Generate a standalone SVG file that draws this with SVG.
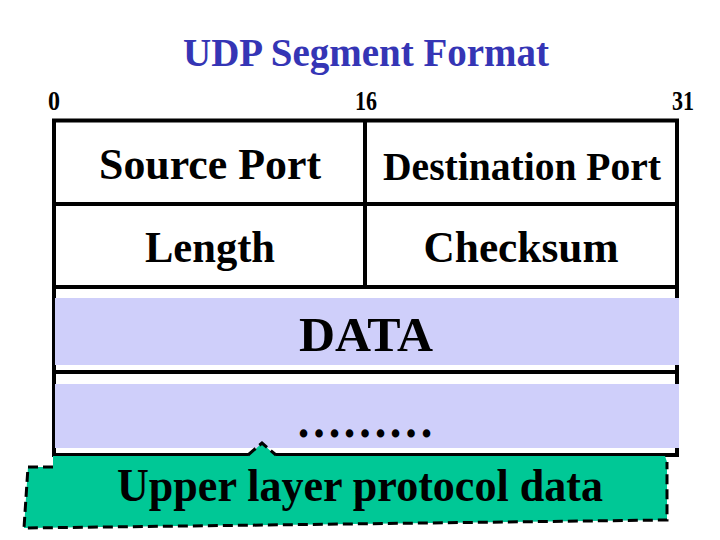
<svg xmlns="http://www.w3.org/2000/svg" width="720" height="540" viewBox="0 0 720 540">
  <style>
    .t { font-family: "Liberation Serif", "Times New Roman", serif; font-weight: bold; fill: #000; text-anchor: middle; }
    .title { fill: #3535b5; }
    .ln { stroke: #000; stroke-width: 4; fill: none; }
    .band { fill: #cfcffa; }
    .dash { stroke: #000; stroke-width: 3; fill: none; stroke-dasharray: 10 5; }
  </style>
  <rect width="720" height="540" fill="#fff"/>

  <g id="title">
    <text class="t title" x="366" y="66" font-size="39" textLength="366" lengthAdjust="spacingAndGlyphs">UDP Segment Format</text>
  </g>

  <g id="bit-labels">
    <text class="t" x="54" y="110" font-size="27" textLength="12" lengthAdjust="spacingAndGlyphs">0</text>
    <text class="t" x="366" y="110" font-size="27" textLength="22" lengthAdjust="spacingAndGlyphs">16</text>
    <text class="t" x="683" y="110" font-size="27" textLength="22" lengthAdjust="spacingAndGlyphs">31</text>
  </g>

  <g id="grid">
    <line class="ln" x1="52" y1="120.5" x2="679" y2="120.5"/>
    <line class="ln" x1="54" y1="119" x2="54" y2="457"/>
    <line class="ln" x1="677" y1="119" x2="677" y2="457"/>
    <line class="ln" x1="365" y1="120" x2="365" y2="287"/>
    <line class="ln" x1="54" y1="204" x2="677" y2="204"/>
    <line class="ln" x1="54" y1="287" x2="677" y2="287"/>
    <line class="ln" x1="54" y1="372" x2="677" y2="372"/>
    <line class="ln" x1="54" y1="455" x2="679" y2="455"/>
  </g>

  <g id="source-port">
    <text class="t" x="210" y="179" font-size="45" textLength="222" lengthAdjust="spacingAndGlyphs">Source Port</text>
  </g>
  <g id="destination-port">
    <text class="t" x="522" y="180" font-size="39" textLength="278" lengthAdjust="spacingAndGlyphs">Destination Port</text>
  </g>
  <g id="length">
    <text class="t" x="210" y="262" font-size="44" textLength="130" lengthAdjust="spacingAndGlyphs">Length</text>
  </g>
  <g id="checksum">
    <text class="t" x="521" y="262" font-size="44" textLength="195" lengthAdjust="spacingAndGlyphs">Checksum</text>
  </g>

  <g id="data">
    <rect class="band" x="55" y="298" width="624" height="67"/>
    <text class="t" x="366" y="351" font-size="48" textLength="134" lengthAdjust="spacingAndGlyphs">DATA</text>
  </g>

  <g id="data-more">
    <rect class="band" x="55" y="384" width="624" height="64"/>
    <text class="t" x="365" y="437" font-size="50" textLength="138" lengthAdjust="spacingAndGlyphs">………</text>
  </g>

  <g id="callout">
    <polygon fill="#00c896" points="53,456 248,456 262,443 276,456 665,456 667,462 667,520 24,528 28,467 53,467"/>
    <polyline class="dash" points="53,467 28,467 24,528 667,520 667,462"/>
    <polyline class="dash" stroke-dasharray="8 4" points="248,455 262,443 276,455"/>
    <text class="t" x="360" y="501" font-size="46" textLength="486" lengthAdjust="spacingAndGlyphs">Upper layer protocol data</text>
  </g>
</svg>
